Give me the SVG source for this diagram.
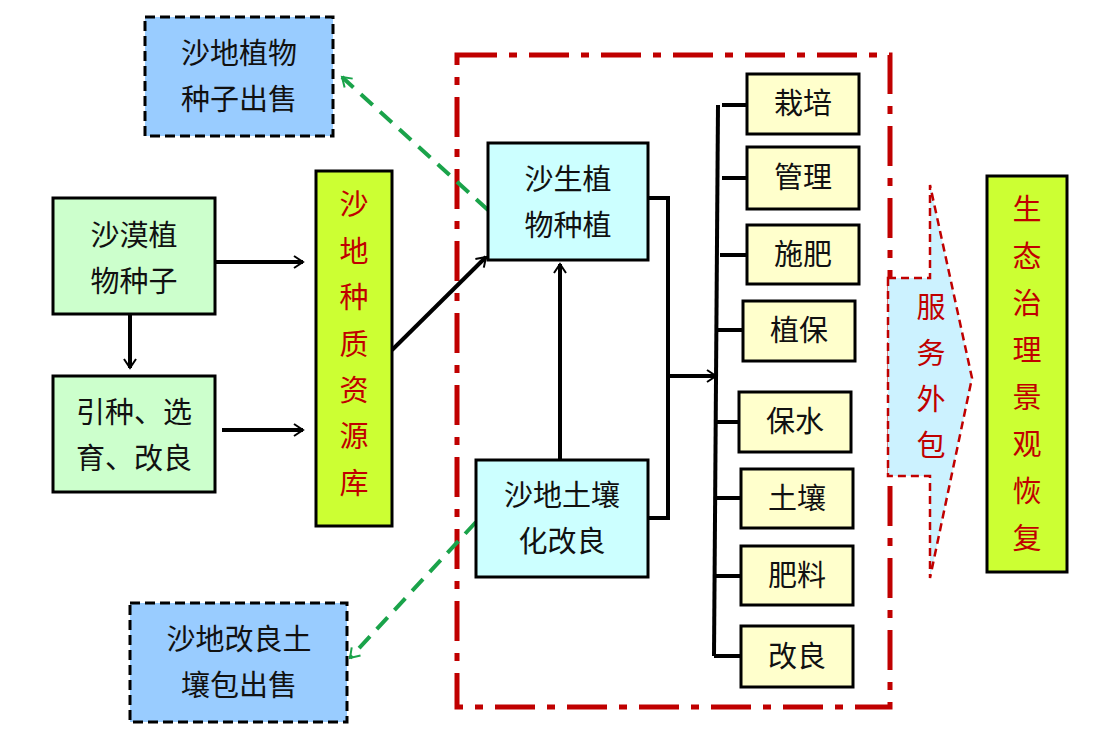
<svg xmlns="http://www.w3.org/2000/svg" width="1120" height="744" viewBox="0 0 1120 744">
<style>
text{font-family:"Liberation Serif","Noto Sans CJK SC",serif;font-size:29px;fill:#111;text-anchor:middle}
.r{fill:#c00000}
.bx{stroke:#000;stroke-width:3}
.ln{stroke:#000;stroke-width:4;fill:none}
.gd{stroke:#1aa34a;stroke-width:4;stroke-dasharray:16 10;fill:none}
</style>
<defs>
<marker id="a" viewBox="0 0 12 12" refX="10" refY="6" markerWidth="6" markerHeight="6" orient="auto" markerUnits="userSpaceOnUse" style="overflow:visible"><path d="M-8,-6 L10,6 L-8,18" transform="scale(1)" fill="none" stroke="#000" stroke-width="4"/></marker>
<marker id="g" viewBox="0 0 12 12" refX="10" refY="6" markerWidth="6" markerHeight="6" orient="auto" markerUnits="userSpaceOnUse" style="overflow:visible"><path d="M-8,-6 L10,6 L-8,18" fill="none" stroke="#1aa34a" stroke-width="4"/></marker>
</defs>
<rect width="1120" height="744" fill="#fff"/>
<rect x="457" y="55" width="433" height="652" fill="none" stroke="#c00000" stroke-width="5" stroke-dasharray="40 12 8 12"/>
<g id="connectors">
<line class="ln" x1="215" y1="262" x2="303" y2="262" marker-end="url(#a)"/>
<line class="ln" x1="222" y1="430" x2="303" y2="430" marker-end="url(#a)"/>
<line class="ln" x1="130" y1="314" x2="130" y2="368" marker-end="url(#a)"/>
<line class="ln" x1="392" y1="350" x2="486" y2="257" marker-end="url(#a)"/>
<line class="ln" x1="560" y1="460" x2="560" y2="264" marker-end="url(#a)"/>
<path class="ln" d="M648,198 H668 V518 H648"/>
<line class="ln" x1="668" y1="376" x2="716" y2="376" marker-end="url(#a)"/>
<line class="ln" x1="718" y1="105" x2="714" y2="656"/>
<path class="ln" d="M722,105H747M722,178H747M720,255H747M718,330H743M716,422H739M716,498H741M716,576H741M714,656H741"/>
<line class="gd" x1="488" y1="210" x2="342" y2="77" marker-end="url(#g)"/>
<line class="gd" x1="476" y1="522" x2="350" y2="658" marker-end="url(#g)"/>
</g>
<g id="n_seed_sale"><rect class="bx" x="145" y="17" width="188" height="119" fill="#99ccff" stroke-dasharray="10 5" stroke-width="4"/><text x="239" y="64">沙地植物</text><text x="239" y="110">种子出售</text></g>
<g id="n_seeds"><rect class="bx" x="53" y="198" width="162" height="116" fill="#ccffcc"/><text x="134" y="246">沙漠植</text><text x="134" y="292">物种子</text></g>
<g id="n_breed"><rect class="bx" x="53" y="376" width="162" height="116" fill="#ccffcc"/><text x="134" y="423">引种、选</text><text x="134" y="469">育、改良</text></g>
<g id="n_bank"><rect class="bx" x="316" y="171" width="76" height="355" fill="#ccff33"/>
<text class="r" x="354" y="215">沙</text><text class="r" x="354" y="262">地</text><text class="r" x="354" y="308">种</text><text class="r" x="354" y="355">质</text><text class="r" x="354" y="401">资</text><text class="r" x="354" y="447">源</text><text class="r" x="354" y="494">库</text></g>
<g id="n_plant"><rect class="bx" x="488" y="143" width="160" height="117" fill="#ccffff"/><text x="568" y="190">沙生植</text><text x="568" y="236">物种植</text></g>
<g id="n_soil"><rect class="bx" x="476" y="460" width="172" height="117" fill="#ccffff"/><text x="562" y="506">沙地土壤</text><text x="562" y="552">化改良</text></g>
<g id="n_soil_sale"><rect class="bx" x="130" y="603" width="217" height="119" fill="#99ccff" stroke-dasharray="10 5" stroke-width="4"/><text x="239" y="650">沙地改良土</text><text x="239" y="696">壤包出售</text></g>
<g id="items">
<g id="i1"><rect class="bx" x="747" y="74" width="112" height="60" fill="#ffffcc"/><text x="803" y="114">栽培</text></g>
<g id="i2"><rect class="bx" x="747" y="147" width="112" height="62" fill="#ffffcc"/><text x="803" y="188">管理</text></g>
<g id="i3"><rect class="bx" x="747" y="225" width="112" height="59" fill="#ffffcc"/><text x="803" y="265">施肥</text></g>
<g id="i4"><rect class="bx" x="743" y="301" width="112" height="60" fill="#ffffcc"/><text x="799" y="341">植保</text></g>
<g id="i5"><rect class="bx" x="739" y="392" width="112" height="60" fill="#ffffcc"/><text x="795" y="432">保水</text></g>
<g id="i6"><rect class="bx" x="741" y="469" width="112" height="59" fill="#ffffcc"/><text x="797" y="509">土壤</text></g>
<g id="i7"><rect class="bx" x="741" y="546" width="112" height="59" fill="#ffffcc"/><text x="797" y="586">肥料</text></g>
<g id="i8"><rect class="bx" x="741" y="626" width="112" height="61" fill="#ffffcc"/><text x="797" y="667">改良</text></g>
</g>
<g id="n_outsource"><path d="M888,278 H930 V185 L972,378 L930,578 V476 H888 Z" fill="#ccf2ff" stroke="#c00000" stroke-width="2.5" stroke-dasharray="8 5"/>
<text class="r" x="931" y="318">服</text><text class="r" x="931" y="364">务</text><text class="r" x="931" y="410">外</text><text class="r" x="931" y="456">包</text></g>
<g id="n_eco"><rect class="bx" x="987" y="176" width="80" height="396" fill="#ccff33"/>
<text class="r" x="1027" y="220">生</text><text class="r" x="1027" y="267">态</text><text class="r" x="1027" y="314">治</text><text class="r" x="1027" y="361">理</text><text class="r" x="1027" y="408">景</text><text class="r" x="1027" y="455">观</text><text class="r" x="1027" y="502">恢</text><text class="r" x="1027" y="549">复</text></g>
</svg>
